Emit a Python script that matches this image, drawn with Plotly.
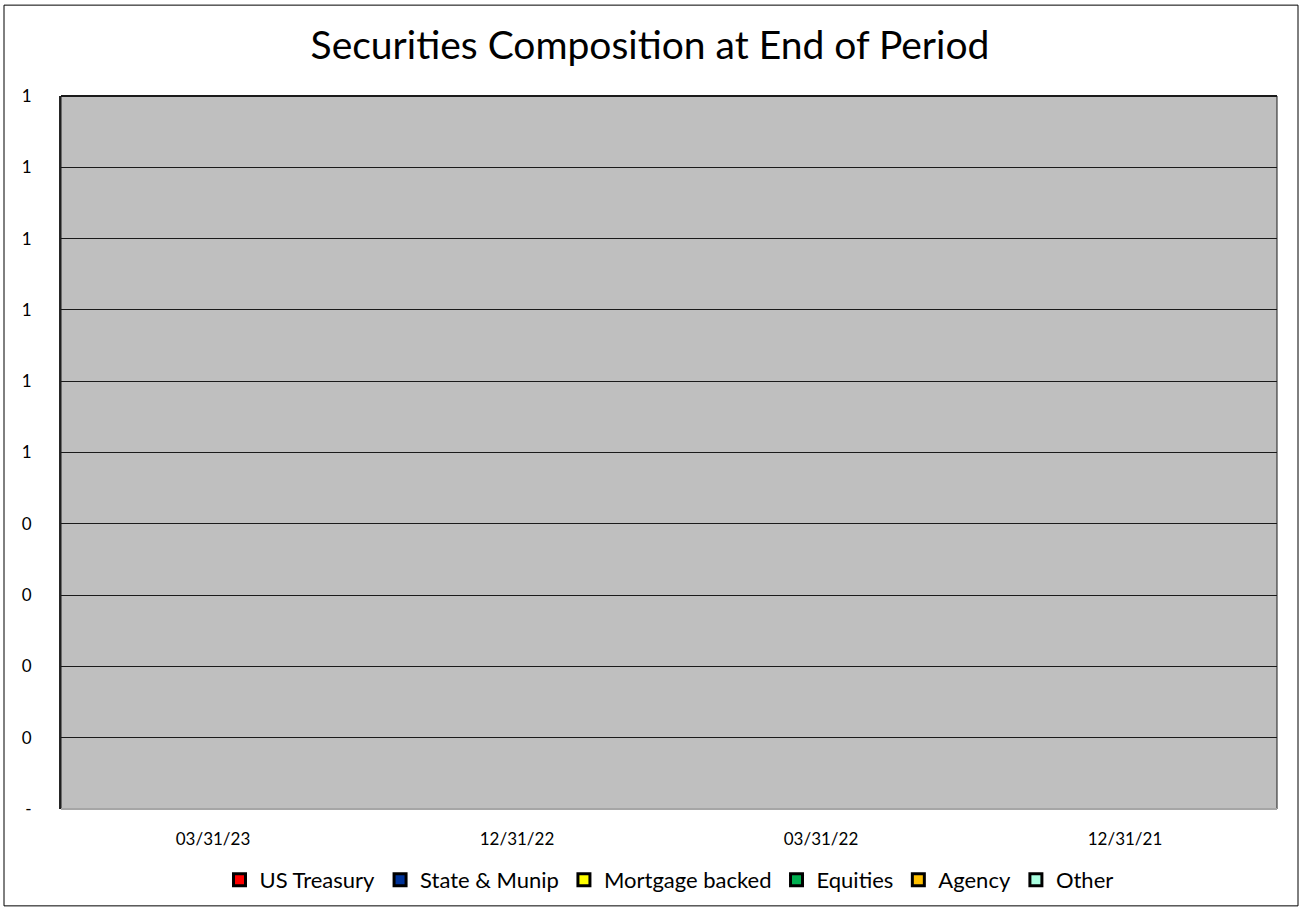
import plotly.graph_objects as go

categories = ["03/31/23", "12/31/22", "03/31/22", "12/31/21"]
series_names = ["US Treasury", "State & Munip", "Mortgage backed", "Equities", "Agency", "Other"]
series_colors = ["#FF0000", "#003399", "#FFFF00", "#00B050", "#FFC000", "#AAFFE0"]
us_treasury = [0, 0, 0, 0]
state_munip = [0, 0, 0, 0]
mortgage_backed = [0, 0, 0, 0]
equities = [0, 0, 0, 0]
agency = [0, 0, 0, 0]
other = [0, 0, 0, 0]
series_values = [us_treasury, state_munip, mortgage_backed, equities, agency, other]
y_tickvals = [0, 0.1, 0.2, 0.3, 0.4, 0.5, 0.6, 0.7, 0.8, 0.9, 1.0]
y_ticktext = ["-", "0", "0", "0", "0", "1", "1", "1", "1", "1", "1"]

W, H = 1300, 912
L, R, T, B = 61, 23, 96, 102
pw, ph = W - L - R, H - T - B

fig = go.Figure()
for name, color, vals in zip(series_names, series_colors, series_values):
    fig.add_trace(go.Bar(
        name=name, x=categories, y=vals,
        marker=dict(color=color, line=dict(color="black", width=3)),
    ))

font_family = "Lato, 'Open Sans', sans-serif"
fig.update_layout(
    width=W, height=H,
    barmode="stack",
    margin=dict(l=L, r=R, t=T, b=B, pad=0),
    paper_bgcolor="white",
    plot_bgcolor="#BFBFBF",
    font=dict(family=font_family, color="black", size=17),
    title=dict(text="Securities Composition at End of Period", x=0.5, xanchor="center",
               y=1 - 45 / H, yanchor="middle", font=dict(size=39, family=font_family, color="black")),
    showlegend=True,
    legend=dict(orientation="h", x=0.5, xanchor="center", y=-(880 - 810) / ph, yanchor="middle",
                font=dict(size=22, family=font_family), traceorder="normal",
                itemwidth=30, tracegroupgap=0),
    xaxis=dict(showgrid=False, zeroline=False, showline=False, tickfont=dict(size=17),
               ticks="", ticklabelstandoff=18),
    yaxis=dict(range=[0, 1], tickvals=y_tickvals, ticktext=y_ticktext,
               showgrid=True, gridcolor="#1a1a1a", gridwidth=1,
               zeroline=False, showline=True, linecolor="#262626", linewidth=2,
               ticks="", ticklabelstandoff=24, tickfont=dict(size=17)),
    shapes=[
        dict(type="rect", xref="paper", yref="paper", x0=0, x1=1, y0=0, y1=1,
             line=dict(color="#1a1a1a", width=1), fillcolor="rgba(0,0,0,0)", layer="above"),
        dict(type="line", xref="paper", yref="paper", x0=0, x1=1, y0=0, y1=0,
             line=dict(color="#A6A6A6", width=2), layer="above"),
        dict(type="line", xref="paper", yref="paper", x0=0, x1=1, y0=1, y1=1,
             line=dict(color="#1a1a1a", width=2), layer="above"),
        dict(type="rect", xref="paper", yref="paper",
             x0=(4 - L) / pw, x1=(1298 - L) / pw,
             y0=(H - B - 907) / ph, y1=(H - B - 5) / ph,
             line=dict(color="black", width=1), fillcolor="rgba(0,0,0,0)"),
    ],
)

fig.write_html("out.html", config={"displayModeBar": False},
               post_script="document.body.style.margin='0';document.body.style.overflow='hidden';")
